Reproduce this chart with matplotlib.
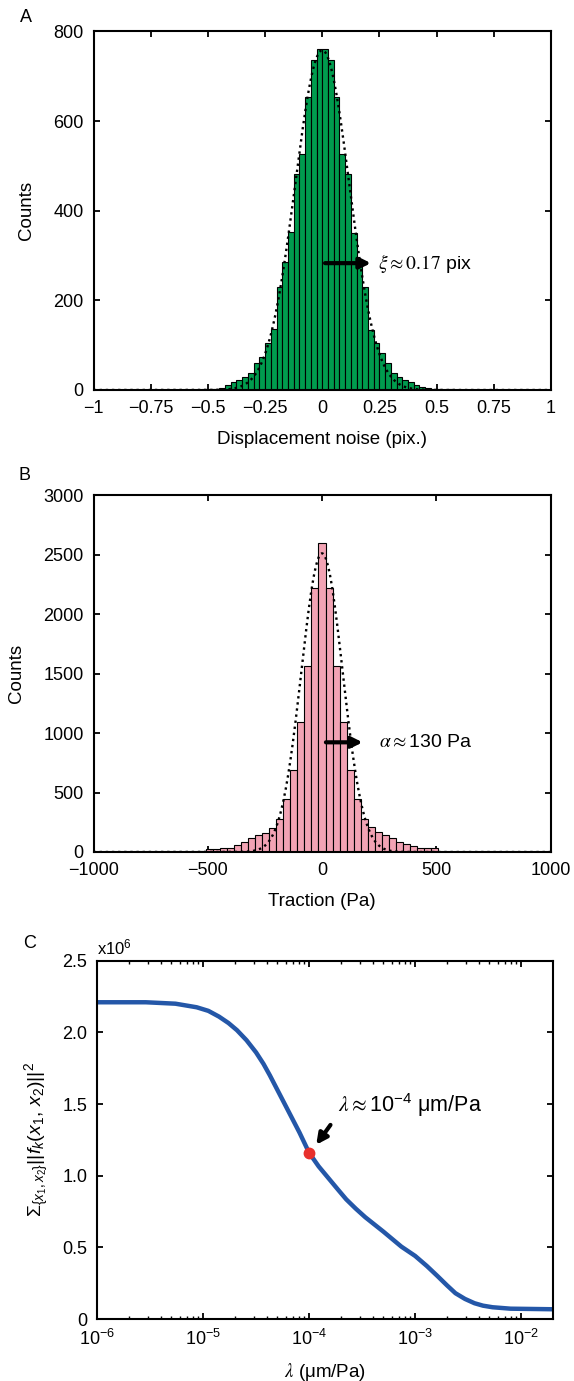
import numpy as np
import matplotlib
matplotlib.use("Agg")
import matplotlib.pyplot as plt
from matplotlib.ticker import FixedLocator, FixedFormatter, LogLocator, NullFormatter

plt.rcParams['font.family'] = ['Liberation Sans', 'DejaVu Sans']
plt.rcParams['mathtext.fontset'] = 'custom'
plt.rcParams['mathtext.rm'] = 'Liberation Sans'
plt.rcParams['mathtext.it'] = 'Liberation Sans:italic'
plt.rcParams['axes.unicode_minus'] = True

# ---- panel A: displacement noise histogram (80 bins, -1 .. 1)
noise_range = (-1.0, 1.0)
noise_counts = [0, 0, 0, 0, 0, 1, 0, 0, 1, 0, 0, 1, 0, 1, 1, 0, 1,
                1, 1, 3, 3, 2, 5, 11, 17, 22, 30, 37, 60, 74, 104, 135, 230, 286, 352, 481, 526, 654, 737, 760,
                760, 737, 654, 526, 481, 351, 286, 230, 134, 104, 83, 61, 39, 30, 22, 17, 11, 7, 4, 2, 3, 1, 2,
                1, 0, 1, 0, 0, 1, 0, 0, 0, 1, 0, 0, 0, 0, 0, 0, 0]
noise_fit_peak = 758
noise_fit_sigma = 0.118
noise_ticks = [-1, -0.75, -0.5, -0.25, 0, 0.25, 0.5, 0.75, 1]
noise_ticklabels = ['\u22121', '\u22120.75', '\u22120.5', '\u22120.25', '0', '0.25', '0.5', '0.75', '1']

# ---- panel B: traction histogram (65 bins, -1000 .. 1000)
trac_range = (-1000.0, 1000.0)
trac_counts = [0, 0, 0, 0, 0, 0, 0, 0, 0, 1, 0, 0, 1, 1, 2,
               10, 25, 28, 31, 36, 59, 81, 115, 143, 163, 205, 275, 443, 690, 1097, 1565, 2220,
               2600,
               2220, 1565, 1097, 690, 443, 278, 208, 171, 143, 115, 87, 64, 50, 36, 31, 31, 4,
               2, 1, 0, 1, 0, 0, 0, 0, 0, 0, 0, 0, 0, 0, 0]
trac_fit_peak = 2513
trac_fit_sigma = 90
trac_ticks = [-1000, -500, 0, 500, 1000]

# ---- panel C: L-curve (x in log10 of um/Pa, y in units of 1e6)
log_lambda = [-6.0, -5.54, -5.26, -5.06, -4.95, -4.85, -4.76, -4.68, -4.59, -4.50, -4.43, -4.37,
              -4.30, -4.23, -4.16, -4.09, -4.0, -3.91, -3.82, -3.73, -3.65, -3.56, -3.47, -3.30,
              -3.13, -3.0, -2.89, -2.79, -2.70, -2.62, -2.53, -2.44, -2.36, -2.27, -2.10, -1.70]
norm_e6 = [2.21, 2.21, 2.20, 2.175, 2.15, 2.11, 2.065, 2.015, 1.945, 1.86, 1.78, 1.70,
           1.60, 1.50, 1.40, 1.30, 1.16, 1.065, 0.985, 0.905, 0.835, 0.77, 0.71, 0.61,
           0.505, 0.44, 0.37, 0.30, 0.235, 0.18, 0.14, 0.11, 0.093, 0.082, 0.072, 0.068]
lambda_opt = 1e-4
norm_opt_e6 = 1.16
c_yticks = [0, 0.5, 1.0, 1.5, 2.0, 2.5]
c_yticklabels = ['0', '0.5', '1.0', '1.5', '2.0', '2.5']

W, H = 574, 1381
fig = plt.figure(figsize=(W / 100, H / 100), dpi=100)

TICK_FS = 13
LABEL_FS = 13.5


def px_axes(l, r, t, b):
    return fig.add_axes([l / W, 1 - b / H, (r - l) / W, (b - t) / H])


def style(ax):
    for s in ax.spines.values():
        s.set_linewidth(1.5)
    ax.tick_params(which='major', direction='in', top=True, right=True, length=4, width=1.3,
                   labelsize=TICK_FS, pad=7)
    ax.tick_params(which='minor', direction='in', top=True, right=True, length=2, width=1)


def hist_panel(ax, counts, rng, color, peak, sigma):
    n = len(counts)
    edges = np.linspace(rng[0], rng[1], n + 1)
    centers = 0.5 * (edges[:-1] + edges[1:])
    ax.bar(centers, counts, width=edges[1] - edges[0], color=color, edgecolor='black',
           linewidth=0.8, zorder=2)
    xs = np.linspace(rng[0], rng[1], 600)
    ax.plot(xs, peak * np.exp(-xs ** 2 / (2 * sigma ** 2)), color='black', ls=(0, (1, 1.6)),
            lw=1.7, zorder=3)
    ax.set_xlim(rng)


# A
axA = px_axes(93.5, 551, 31.4, 390)
hist_panel(axA, noise_counts, noise_range, '#009B4E', noise_fit_peak, noise_fit_sigma)
axA.set_ylim(0, 800)
axA.yaxis.set_major_locator(FixedLocator([0, 200, 400, 600, 800]))
axA.xaxis.set_major_locator(FixedLocator(noise_ticks))
axA.xaxis.set_major_formatter(FixedFormatter(noise_ticklabels))
style(axA)
axA.set_ylabel('Counts', fontsize=LABEL_FS, labelpad=13)
axA.set_xlabel('Displacement noise (pix.)', fontsize=LABEL_FS, labelpad=10)
axA.annotate('', xy=(0.225, 283), xytext=(0.0, 283),
             arrowprops=dict(arrowstyle='-|>', color='black', lw=3, mutation_scale=16), zorder=5)
axA.text(0.243, 283, r'$\xi \approx 0.17$ pix', fontsize=14, va='center', ha='left',
         math_fontfamily='stix', zorder=5)

# B
axB = px_axes(93.5, 550.5, 495.5, 852)
hist_panel(axB, trac_counts, trac_range, '#F2A3B4', trac_fit_peak, trac_fit_sigma)
axB.set_ylim(0, 3000)
axB.yaxis.set_major_locator(FixedLocator([0, 500, 1000, 1500, 2000, 2500, 3000]))
axB.xaxis.set_major_locator(FixedLocator(trac_ticks))
style(axB)
axB.set_ylabel('Counts', fontsize=LABEL_FS, labelpad=13)
axB.set_xlabel('Traction (Pa)', fontsize=LABEL_FS, labelpad=10)
axB.annotate('', xy=(190, 923), xytext=(5, 923),
             arrowprops=dict(arrowstyle='-|>', color='black', lw=3, mutation_scale=16), zorder=5)
axB.text(251, 923, r'$\alpha$$\approx$130 Pa', fontsize=14, va='center', ha='left',
         math_fontfamily='stix', zorder=5)

# C
axC = px_axes(97, 553, 960.7, 1319)
lam = 10.0 ** np.array(log_lambda)
axC.plot(lam, np.array(norm_e6) * 1e6, color='#2457A8', lw=3.2, solid_capstyle='round',
         solid_joinstyle='round', zorder=2)
axC.plot([lambda_opt], [norm_opt_e6 * 1e6], 'o', color='#E8302C', ms=7.5, zorder=4)
axC.set_xscale('log')
axC.set_xlim(1e-6, 10 ** -1.7)
axC.set_ylim(0, 2.5e6)
axC.xaxis.set_major_locator(LogLocator(base=10, numticks=10))
axC.xaxis.set_minor_locator(LogLocator(base=10, subs=np.arange(2, 10), numticks=20))
axC.xaxis.set_minor_formatter(NullFormatter())
axC.yaxis.set_major_locator(FixedLocator([v * 1e6 for v in c_yticks]))
axC.yaxis.set_major_formatter(FixedFormatter(c_yticklabels))
style(axC)
axC.set_xlabel('$\\lambda$ (\u03bcm/Pa)', fontsize=LABEL_FS, labelpad=9, math_fontfamily='stix')
axC.set_ylabel(r'$\Sigma_{\{x_1,x_2\}}||f_k(x_1,\, x_2)||^2$', fontsize=14, labelpad=8)
axC.text(0.0, 1.008, r'x10$^6$', transform=axC.transAxes, fontsize=12, ha='left', va='bottom')
axC.annotate('', xy=(10 ** -3.948, 1.20e6), xytext=(10 ** -3.783, 1.37e6),
             arrowprops=dict(arrowstyle='-|>', color='black', lw=3, mutation_scale=16), zorder=5)
axC.text(10 ** -3.732, 1.49e6, '$\\lambda$$\\approx$10$^{\\mathregular{-4}}$ \u03bcm/Pa', fontsize=15.5,
         va='center', ha='left', math_fontfamily='stix', zorder=5)

# panel letters
fig.text(25.5 / W, 1 - 17.5 / H, 'A', fontsize=13, ha='center', va='center')
fig.text(25 / W, 1 - 476 / H, 'B', fontsize=13, ha='center', va='center')
fig.text(30 / W, 1 - 943 / H, 'C', fontsize=13, ha='center', va='center')

fig.savefig('out.png', dpi=100)
